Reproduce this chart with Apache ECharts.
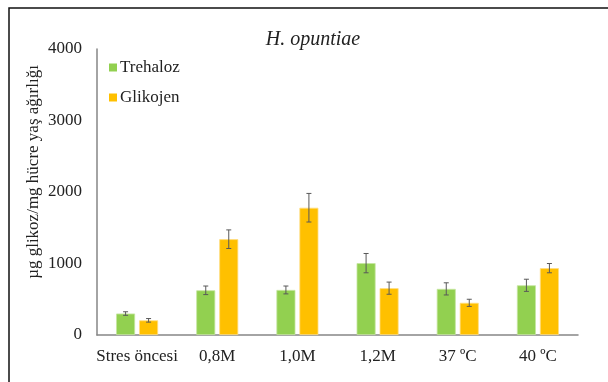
<!DOCTYPE html>
<html><head><meta charset="utf-8">
<script src="https://cdn.jsdelivr.net/npm/echarts@6/dist/echarts.min.js"></script>
<style>html,body{margin:0;padding:0;background:#fff}#c{width:608px;height:382px}</style>
</head><body><div id="c"></div>
<script>
const categories = ['Stres öncesi', '0,8M', '1,0M', '1,2M', '37 ºC', '40 ºC'];
const trehaloz = [300, 625, 630, 1005, 645, 695];
const trehalozErr = [25, 60, 55, 135, 85, 85];
const glikojen = [205, 1340, 1780, 655, 450, 935];
const glikojenErr = [25, 130, 200, 85, 50, 65];
const yTicks = [0, 1000, 2000, 3000, 4000];

const font = 'Liberation Serif, Times New Roman, serif';
const chart = echarts.init(document.getElementById('c'));

function errSeries(name, vals, errs, offset) {
  return {
    type: 'custom', name: name + ' err', silent: true, z: 10,
    data: vals.map((v, i) => [i, v, errs[i]]),
    renderItem: function (params, api) {
      const i = api.value(0), v = api.value(1), e = api.value(2);
      const hi = api.coord([i, v + e]);
      const lo = api.coord([i, v - e]);
      const x = hi[0] + offset;
      const style = { stroke: '#595959', lineWidth: 1 };
      return { type: 'group', children: [
        { type: 'line', shape: { x1: x, y1: hi[1], x2: x, y2: lo[1] }, style },
        { type: 'line', shape: { x1: x - 2.5, y1: hi[1], x2: x + 2.5, y2: hi[1] }, style },
        { type: 'line', shape: { x1: x - 2.5, y1: lo[1], x2: x + 2.5, y2: lo[1] }, style }
      ]};
    }
  };
}

chart.setOption({
  animation: false,
  textStyle: { fontFamily: font },
  title: { text: 'H. opuntiae', left: 308, top: 25, textAlign: 'center',
    textStyle: { fontFamily: font, fontStyle: 'italic', fontWeight: 'normal', fontSize: 20, color: '#222' } },
  legend: { orient: 'vertical', left: 104, top: 54, itemWidth: 8, itemHeight: 8, itemGap: 13, icon: 'rect',
    data: ['Trehaloz', 'Glikojen'],
    itemStyle: { borderWidth: 0 },
    textStyle: { fontFamily: font, fontSize: 17, color: '#222', padding: [0, 0, 0, -2] } },
  grid: { left: 97, right: 30, top: 49, bottom: 47 },
  xAxis: { type: 'category', data: categories,
    axisLine: { lineStyle: { color: '#868686', width: 1.5 } }, axisTick: { show: false },
    axisLabel: { interval: 0, fontFamily: font, fontSize: 17, color: '#222', margin: 13 } },
  yAxis: { type: 'value', min: yTicks[0], max: yTicks[yTicks.length - 1], interval: 1000,
    splitLine: { show: false },
    axisLine: { show: true, lineStyle: { color: '#868686', width: 1.5 } }, axisTick: { show: false },
    axisLabel: { fontFamily: font, fontSize: 17, color: '#222', margin: 15, formatter: v => String(v) } },
  graphic: [
    { type: 'rect', shape: { x: 9, y: 8, width: 640, height: 420 }, style: { fill: 'none', stroke: '#111', lineWidth: 1.5 }, silent: true },
    { type: 'text', x: 34, y: 172, rotation: Math.PI / 2,
      style: { text: 'µg glikoz/mg hücre yaş ağırlığı', fontFamily: font, fontSize: 17, fill: '#222', align: 'center', verticalAlign: 'middle' } }
  ],
  series: [
    { type: 'bar', name: 'Trehaloz', data: trehaloz, barWidth: 19, barGap: '21%',
      itemStyle: { color: '#92D050', borderColor: '#C5E6A0', borderWidth: 0.8 } },
    { type: 'bar', name: 'Glikojen', data: glikojen, barWidth: 19,
      itemStyle: { color: '#FFC000', borderColor: '#FFDD80', borderWidth: 0.8 } },
    errSeries('Trehaloz', trehaloz, trehalozErr, -11.5),
    errSeries('Glikojen', glikojen, glikojenErr, 11.5)
  ]
});
</script></body></html>
